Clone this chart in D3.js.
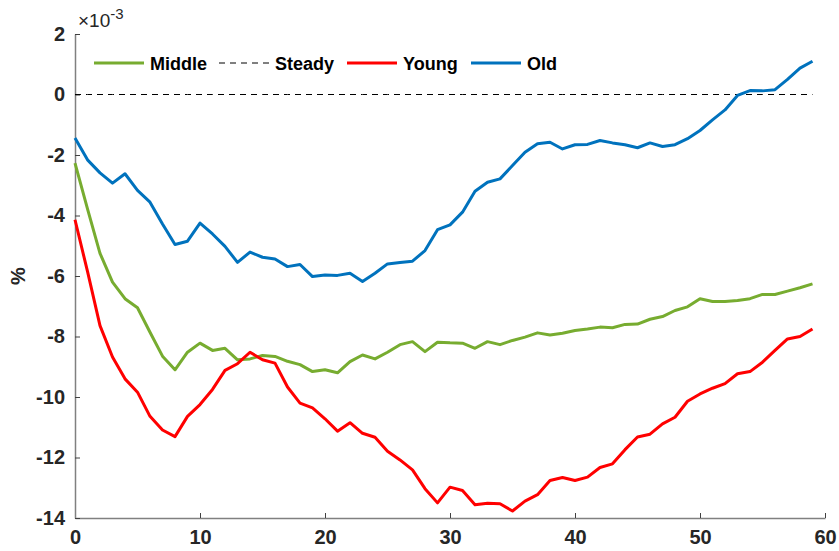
<!DOCTYPE html>
<html>
<head>
<meta charset="utf-8">
<script src="https://cdn.jsdelivr.net/npm/d3@7"></script>
<style>
  body { margin: 0; background: #fff; }
  text { font-family: "Liberation Sans", Arial, sans-serif; font-weight: bold; }
</style>
</head>
<body>
<div id="chart"></div>
<script>
    'use strict';

    // values are in units of 1e-3 (%), periods 0..59
    var middle = [-2.27, -3.78, -5.25, -6.20, -6.75, -7.05, -7.86, -8.65, -9.10, -8.52,
        -8.22, -8.46, -8.39, -8.77, -8.74, -8.63, -8.66, -8.82, -8.93, -9.16,
        -9.10, -9.20, -8.83, -8.61, -8.74, -8.52, -8.27, -8.17, -8.50, -8.19,
        -8.21, -8.22, -8.39, -8.17, -8.27, -8.13, -8.02, -7.88, -7.95, -7.89,
        -7.80, -7.75, -7.69, -7.71, -7.60, -7.59, -7.43, -7.34, -7.14, -7.02,
        -6.75, -6.84, -6.84, -6.81, -6.75, -6.61, -6.61, -6.50, -6.39, -6.26];
    var young = [-4.14, -5.85, -7.64, -8.68, -9.40, -9.84, -10.64, -11.09, -11.31, -10.64,
        -10.25, -9.75, -9.12, -8.90, -8.52, -8.77, -8.88, -9.67, -10.20, -10.36,
        -10.72, -11.13, -10.85, -11.20, -11.33, -11.79, -12.08, -12.41, -13.03, -13.50,
        -12.98, -13.09, -13.56, -13.51, -13.53, -13.77, -13.44, -13.23, -12.76, -12.66,
        -12.76, -12.65, -12.33, -12.21, -11.74, -11.32, -11.23, -10.89, -10.67, -10.14,
        -9.90, -9.71, -9.56, -9.23, -9.16, -8.85, -8.46, -8.08, -8.00, -7.75];
    var old = [-1.44, -2.16, -2.59, -2.93, -2.62, -3.17, -3.56, -4.28, -4.96, -4.85,
        -4.25, -4.61, -5.02, -5.55, -5.21, -5.38, -5.44, -5.69, -5.62, -6.02,
        -5.97, -5.98, -5.91, -6.18, -5.91, -5.60, -5.55, -5.51, -5.16, -4.47,
        -4.31, -3.89, -3.20, -2.90, -2.79, -2.35, -1.91, -1.63, -1.58, -1.80,
        -1.66, -1.65, -1.52, -1.60, -1.66, -1.76, -1.60, -1.72, -1.66, -1.46,
        -1.19, -0.84, -0.51, -0.03, 0.13, 0.12, 0.16, 0.50, 0.87, 1.10];
    var steady = d3.range(60).map(function () { return 0; });

    var xTicks = [0, 10, 20, 30, 40, 50, 60];
    var yTicks = [2, 0, -2, -4, -6, -8, -10, -12, -14];

    var seriesList = [
        {name: 'Middle', values: middle, color: '#77AC30', width: 3, dash: null},
        {name: 'Steady', values: steady, color: '#000000', width: 1, dash: '6,5'},
        {name: 'Young', values: young, color: '#FF0000', width: 3, dash: null},
        {name: 'Old', values: old, color: '#0072BD', width: 3, dash: null}
    ];

    var width = 839, height = 551;
    var margin = {left: 75, right: 14, top: 34, bottom: 33};

    var svg = d3.select('#chart').append('svg')
        .attr('width', width)
        .attr('height', height);

    var x = d3.scaleLinear().domain([0, 60]).range([margin.left, width - margin.right]);
    var y = d3.scaleLinear().domain([-14, 2]).range([height - margin.bottom, margin.top]);

    // axes
    var xAxis = svg.append('g')
        .attr('transform', 'translate(0,' + (height - margin.bottom) + ')')
        .call(d3.axisBottom(x).tickValues(xTicks).tickSizeInner(-5).tickSizeOuter(0).tickPadding(12));
    var yAxis = svg.append('g')
        .attr('transform', 'translate(' + margin.left + ',0)')
        .call(d3.axisLeft(y).tickValues(yTicks).tickSizeInner(-5).tickSizeOuter(0).tickPadding(10)
            .tickFormat(function (d) { return d; }));

    [xAxis, yAxis].forEach(function (ax) {
        ax.select('.domain').attr('stroke', '#808080').attr('stroke-width', 1.5);
        ax.selectAll('.tick line').attr('stroke', '#404040');
        ax.selectAll('.tick text')
            .attr('fill', '#262626')
            .style('font-size', '20px');
    });

    // lines
    var line = d3.line()
        .x(function (d, i) { return x(i); })
        .y(function (d) { return y(d); });

    svg.selectAll('path.series')
        .data(seriesList)
        .enter()
        .append('path')
        .attr('class', 'series')
        .attr('fill', 'none')
        .attr('stroke', function (d) { return d.color; })
        .attr('stroke-width', function (d) { return d.width; })
        .attr('stroke-dasharray', function (d) { return d.dash; })
        .attr('stroke-linejoin', 'round')
        .attr('d', function (d) { return line(d.values); });

    // exponent label
    var expo = svg.append('text')
        .attr('x', margin.left + 3)
        .attr('y', 27)
        .attr('fill', '#262626')
        .style('font-weight', 'normal')
        .style('font-size', '19px');
    expo.append('tspan').text('\u00d710');
    expo.append('tspan').attr('dy', -8).style('font-size', '15px').text('-3');

    // y label
    svg.append('text')
        .attr('transform', 'translate(25,' + y(-6) + ') rotate(-90)')
        .attr('text-anchor', 'middle')
        .attr('fill', '#262626')
        .style('font-size', '20px')
        .text('%');

    // legend
    var legendX = [94, 219, 347, 471];
    var legend = svg.selectAll('g.legend')
        .data(seriesList)
        .enter()
        .append('g')
        .attr('class', 'legend')
        .attr('transform', function (d, i) { return 'translate(' + legendX[i] + ',63)'; });

    legend.append('line')
        .attr('x1', 0).attr('x2', 50)
        .attr('stroke', function (d) { return d.color; })
        .attr('stroke-width', function (d) { return d.width; })
        .attr('stroke-dasharray', function (d) { return d.dash; });

    legend.append('text')
        .attr('x', 56)
        .attr('y', 7)
        .attr('fill', '#000')
        .style('font-size', '18px')
        .text(function (d) { return d.name; });
</script>
</body>
</html>
